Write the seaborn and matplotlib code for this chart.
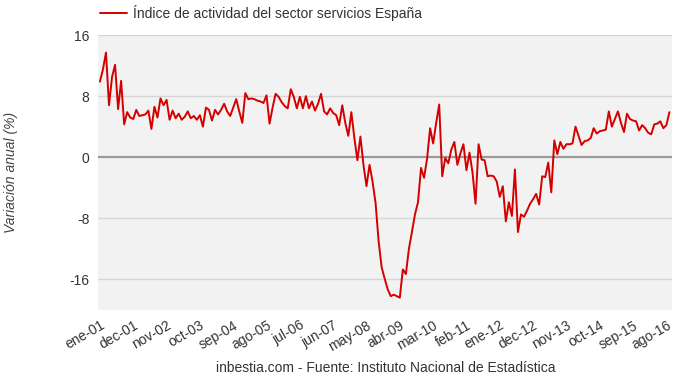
import numpy as np
import pandas as pd
import seaborn as sns
import matplotlib.pyplot as plt

# monthly series, ene-2001 .. sep-2016
values = [
    9.9, 11.5, 13.7, 6.8, 10.5, 12.1, 6.3, 10.0, 4.3, 5.9,
    5.2, 5.0, 6.2, 5.4, 5.5, 5.6, 6.1, 3.7, 6.6, 5.2,
    7.7, 6.8, 7.5, 4.9, 6.1, 5.1, 5.7, 4.9, 5.3, 6.0,
    5.1, 5.4, 4.9, 5.5, 4.0, 6.5, 6.2, 4.8, 6.2, 5.6,
    6.2, 7.0, 6.0, 5.4, 6.5, 7.6, 6.0, 4.5, 8.4, 7.6,
    7.7, 7.6, 7.4, 7.3, 7.1, 8.1, 4.4, 6.5, 8.3, 7.9,
    7.2, 6.7, 6.4, 8.9, 7.9, 6.4, 7.9, 6.4, 8.0, 6.4,
    7.3, 6.1, 7.0, 8.3, 6.0, 5.6, 6.4, 5.8, 5.5, 4.2,
    6.8, 4.5, 2.8, 5.9, 2.5, -0.4, 2.7, -1.0, -3.8, -1.0,
    -3.2, -6.0, -11.0, -14.4, -15.9, -17.3, -18.2, -18.0, -18.2, -18.4,
    -14.7, -15.3, -12.0, -9.8, -7.5, -5.9, -1.4, -2.7, -0.2, 3.8,
    1.8, 4.5, 6.9, -2.5, -0.1, -0.8, 1.0, 2.0, -1.0, 0.5,
    1.7, -1.7, 0.6, -2.0, -6.1, 1.7, -0.3, -0.4, -2.5, -2.4,
    -2.5, -3.2, -5.2, -3.8, -8.4, -5.9, -7.7, -1.6, -9.8, -7.5,
    -7.8, -7.0, -6.1, -5.5, -4.8, -6.2, -2.5, -2.6, -0.7, -4.6,
    2.2, 0.4, 2.0, 1.1, 1.7, 1.7, 1.8, 4.0, 2.8, 1.6,
    2.1, 2.2, 2.5, 3.8, 3.1, 3.4, 3.5, 3.6, 6.0, 4.0,
    5.0, 6.0, 4.5, 3.3, 5.7, 5.0, 4.8, 4.7, 3.5, 4.2,
    3.8, 3.2, 3.0, 4.3, 4.4, 4.7, 3.8, 4.2, 5.9,
]
months = list(range(len(values)))

tick_pos = list(range(0, 188, 11))
tick_labels = ['ene-01', 'dec-01', 'nov-02', 'oct-03', 'sep-04', 'ago-05',
               'jul-06', 'jun-07', 'may-08', 'abr-09', 'mar-10', 'feb-11',
               'ene-12', 'dec-12', 'nov-13', 'oct-14', 'sep-15', 'ago-16']
y_ticks = [16, 8, 0, -8, -16]

df = pd.DataFrame({'mes': months, 'valor': values})

sns.set_style('white')
plt.rcParams['font.family'] = ['Liberation Sans', 'DejaVu Sans']

fig = plt.figure(figsize=(6.8, 3.85), dpi=100)
ax = fig.add_axes([0.144, 0.195, 0.844, 0.714])
ax.set_facecolor('#f2f2f2')

for t in y_ticks:
    if t == 0:
        ax.axhline(t, color='#9a9a9a', lw=1.6, zorder=1)
    else:
        ax.axhline(t, color='#d6d6d6', lw=1.0, zorder=1)

sns.lineplot(data=df, x='mes', y='valor', color='#d40000', lw=1.4, ax=ax,
             label='Índice de actividad del sector servicios España', zorder=3)

ax.set_xlim(-0.66, 188.8)
ax.set_ylim(-20, 16)
ax.set_yticks(y_ticks)
ax.set_yticklabels([str(t) for t in y_ticks], fontsize=10, color='#333333')
ax.set_xticks(tick_pos)
ax.set_xticklabels(tick_labels, rotation=30, ha='right', rotation_mode='anchor',
                   fontsize=10, color='#333333')
ax.tick_params(axis='both', length=0, pad=6)
ax.set_xlabel('')
ax.set_ylabel('Variación anual (%)', fontsize=10, style='italic', color='#444444')
ax.yaxis.set_label_coords(-0.14, 0.5)
for s in ax.spines.values():
    s.set_visible(False)

handles, labels = ax.get_legend_handles_labels()
ax.get_legend().remove()
fig.legend(handles, labels, loc='upper left', bbox_to_anchor=(0.128, 1.02),
           frameon=False, fontsize=10, handlelength=2.0, handletextpad=0.4,
           labelcolor='#333333')

fig.text(0.568, 0.033, 'inbestia.com - Fuente: Instituto Nacional de Estadística',
         ha='center', fontsize=10, color='#333333')

fig.savefig('out.png', dpi=100)
